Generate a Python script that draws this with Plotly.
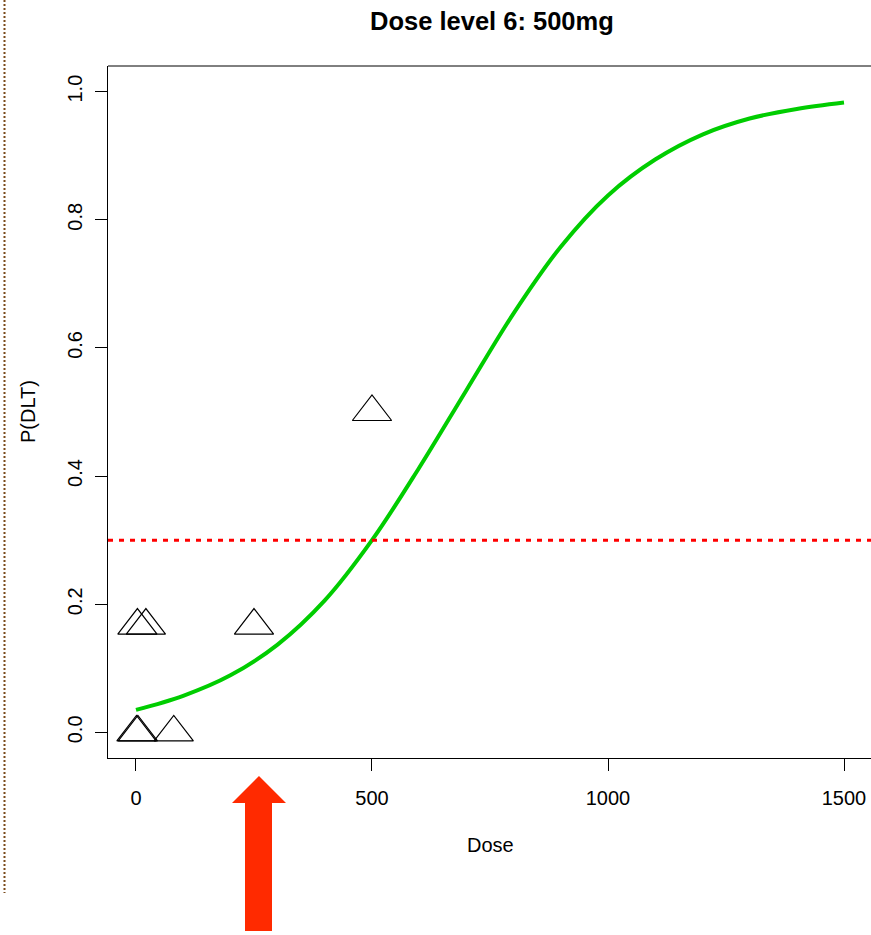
import plotly.graph_objects as go

# ---- data ----
curve_dose = [0, 100, 200, 300, 400, 500, 600, 700, 800, 900, 1000, 1100, 1200, 1300, 1400, 1500]
curve_p = [0.035, 0.057, 0.089, 0.137, 0.206, 0.300, 0.413, 0.534, 0.654, 0.758, 0.838, 0.894, 0.933, 0.958, 0.973, 0.983]

obs_dose = [1, 4, 80, 3, 21, 250, 500]
obs_p = [0.0, 0.0, 0.0, 0.1667, 0.1667, 0.1667, 0.5]

target = 0.3
x_ticks = [0, 500, 1000, 1500]
y_ticks = [0.0, 0.2, 0.4, 0.6, 0.8, 1.0]
title_text = "Dose level 6: 500mg"

W, H = 871, 935
L, R, T, B = 108, 0, 66, 177
PW, PH = W - L - R, H - T - B

def px(x):
    return (x - L) / PW

def py(y):
    return (T + PH - y) / PH

FONT = "Liberation Sans, Arial, Helvetica, sans-serif"

fig = go.Figure()
fig.add_trace(go.Scatter(x=curve_dose, y=curve_p, mode="lines",
                         line=dict(color="#00CD00", width=4, shape="spline", smoothing=1.0),
                         hoverinfo="skip", showlegend=False))
fig.add_trace(go.Scatter(x=obs_dose, y=obs_p, mode="markers",
                         marker=dict(symbol="triangle-up-open", size=34, color="black",
                                     line=dict(color="black", width=1.2)),
                         showlegend=False))

shapes = []
# target line
shapes.append(dict(type="line", xref="paper", yref="y", x0=0, x1=1, y0=target, y1=target,
                   line=dict(color="#FF0000", width=3, dash="5px,6px"), layer="above"))
# top border of box
shapes.append(dict(type="line", xref="paper", yref="paper", x0=0, x1=1, y0=1, y1=1,
                   line=dict(color="black", width=1)))
# brown dotted separator at left
shapes.append(dict(type="line", xref="paper", yref="paper", x0=px(4.5), x1=px(4.5),
                   y0=py(0), y1=py(893), line=dict(color="#7A4A1A", width=2, dash="2px,2px")))
# red arrow below the axis
pts = [(259, 776), (286, 803), (272, 803), (272, 931), (245, 931), (245, 803), (232, 803)]
path = "M " + " L ".join(f"{px(a):.5f},{py(b):.5f}" for a, b in pts) + " Z"
shapes.append(dict(type="path", xref="paper", yref="paper", path=path,
                   fillcolor="#FF2A00", line=dict(color="#FF2A00", width=0)))

annotations = [
    dict(text=f"<b>{title_text}</b>", xref="paper", yref="paper", x=px(492), y=py(21),
         showarrow=False, font=dict(family=FONT, size=25.5, color="black"),
         xanchor="center", yanchor="middle"),
    dict(text="Dose", xref="paper", yref="paper", x=px(490), y=py(845),
         showarrow=False, font=dict(family=FONT, size=20, color="black"),
         xanchor="center", yanchor="middle"),
    dict(text="P(DLT)", xref="paper", yref="paper", x=px(28), y=py(412), textangle=-90,
         showarrow=False, font=dict(family=FONT, size=20, color="black"),
         xanchor="center", yanchor="middle"),
]

fig.update_layout(
    width=W, height=H, margin=dict(l=L, r=R, t=T, b=B),
    paper_bgcolor="white", plot_bgcolor="white",
    font=dict(family=FONT, size=20, color="black"),
    shapes=shapes, annotations=annotations, showlegend=False,
)
fig.update_xaxes(range=[-59.3, 1557.2], tickvals=x_ticks, ticktext=[str(v) for v in x_ticks],
                 showgrid=False, zeroline=False, showline=True, linecolor="black", linewidth=1,
                 ticks="outside", ticklen=12, tickcolor="black", tickwidth=1,
                 tickfont=dict(family=FONT, size=20, color="black"), ticklabelstandoff=10)
fig.update_yaxes(range=[-0.04, 1.04], tickvals=y_ticks, ticktext=[f"{v:.1f}" for v in y_ticks],
                 showgrid=False, zeroline=False, showline=True, linecolor="black", linewidth=1,
                 ticks="outside", ticklen=12, tickcolor="black", tickwidth=1, tickangle=-90,
                 tickfont=dict(family=FONT, size=20, color="black"), ticklabelstandoff=5)

fig.write_html("out.html")
